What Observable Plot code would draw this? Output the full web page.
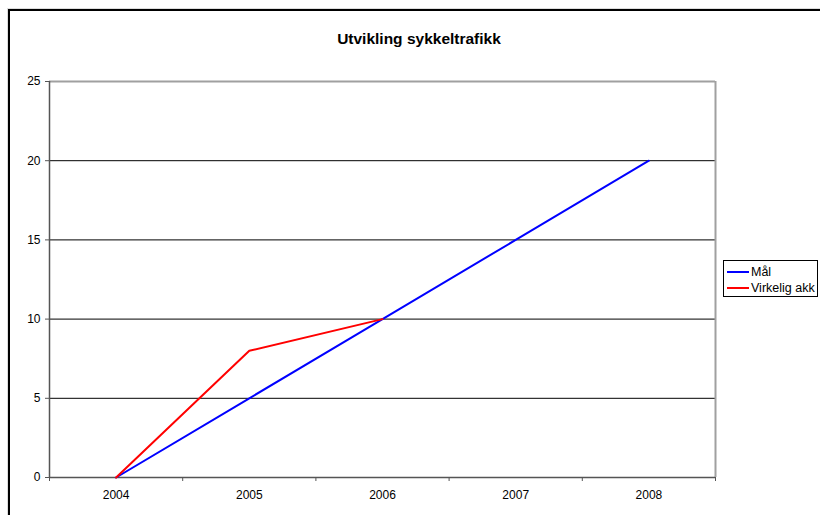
<!DOCTYPE html>
<html>
<head>
<meta charset="utf-8">
<script src="https://cdn.jsdelivr.net/npm/d3@7"></script>
<script src="https://cdn.jsdelivr.net/npm/@observablehq/plot@0.6"></script>
<style>
  html, body { margin: 0; padding: 0; background: #fff; }
  #wrap { position: relative; width: 820px; height: 515px; overflow: hidden; font-family: Arial, "Liberation Sans", sans-serif; }
  #frame { position: absolute; left: 8px; top: 9px; width: 900px; height: 600px; border-left: 2px solid #000; border-top: 2px solid #000; box-shadow: -1px -1px 0 #ddd; }
  #title { position: absolute; left: 0; width: 838px; top: 30px; height: 18px; line-height: 18px; text-align: center; font-weight: bold; font-size: 15.5px; color: #000; }
  #plot { position: absolute; left: 0; top: 0; }
  #legend { position: absolute; left: 723px; top: 260px; width: 95px; height: 37px; border: 1px solid #000; background: #fff; box-sizing: border-box; font-size: 12.5px; }
  .row { position: absolute; left: 3px; height: 14px; line-height: 14px; white-space: nowrap; }
  .sw { display: inline-block; width: 22px; height: 2px; vertical-align: middle; margin-right: 2px; position: relative; top: -1px; }
</style>
</head>
<body>
<div id="wrap">
  <div id="frame"></div>
  <div id="plot"></div>
  <div id="title">Utvikling sykkeltrafikk</div>
  <div id="legend"></div>
</div>
<script>
const years = [2004, 2005, 2006, 2007, 2008];
const maal = [0, 5, 10, 15, 20];
const virkeligYears = [2004, 2005, 2006];
const virkelig = [0, 8, 10];
const seriesNames = ["Mål", "Virkelig akk"];
const seriesColors = ["#0000ff", "#ff0000"];
const yTicks = [0, 5, 10, 15, 20, 25];

const maalData = years.map((y, i) => ({year: y, value: maal[i]}));
const virkData = virkeligYears.map((y, i) => ({year: y, value: virkelig[i]}));
const boundaries = [years[0] - 0.5, ...years.map(y => y + 0.5)];

const chart = Plot.plot({
  width: 820,
  height: 515,
  marginLeft: 49,
  marginRight: 105,
  marginTop: 81,
  marginBottom: 38,
  style: {fontFamily: "Arial, 'Liberation Sans', sans-serif", fontSize: "12px", color: "#000", background: "transparent"},
  x: {type: "linear", domain: [boundaries[0], boundaries[boundaries.length - 1]]},
  y: {domain: [0, 25]},
  marks: [
    Plot.ruleY(yTicks.filter(v => v > 0 && v < 25), {stroke: "#000", strokeWidth: 1}),
    Plot.ruleY([25], {stroke: "#a0a0a0", strokeWidth: 2}),
    Plot.ruleX([boundaries[boundaries.length - 1]], {stroke: "#a0a0a0", strokeWidth: 2}),
    Plot.axisY({ticks: yTicks, tickSize: 4, tickPadding: 5, stroke: "#555", fill: "#000", label: null, tickFormat: d => d}),
    Plot.axisX({ticks: boundaries, tickSize: 4, text: null, stroke: "#555", label: null}),
    Plot.axisX(years, {tickSize: 0, tickPadding: 13, fill: "#000", label: null, tickFormat: d => String(d)}),
    Plot.ruleX([boundaries[0]], {stroke: "#555", strokeWidth: 1.5}),
    Plot.ruleY([0], {stroke: "#555", strokeWidth: 1.5}),
    Plot.line(maalData, {x: "year", y: "value", stroke: seriesColors[0], strokeWidth: 2}),
    Plot.line(virkData, {x: "year", y: "value", stroke: seriesColors[1], strokeWidth: 2})
  ]
});
document.getElementById("plot").appendChild(chart);

const legend = document.getElementById("legend");
seriesNames.forEach((name, i) => {
  const row = document.createElement("div");
  row.className = "row";
  row.style.top = (4 + i * 16) + "px";
  row.innerHTML = `<span class="sw" style="background:${seriesColors[i]}"></span>${name}`;
  legend.appendChild(row);
});
</script>
</body>
</html>
